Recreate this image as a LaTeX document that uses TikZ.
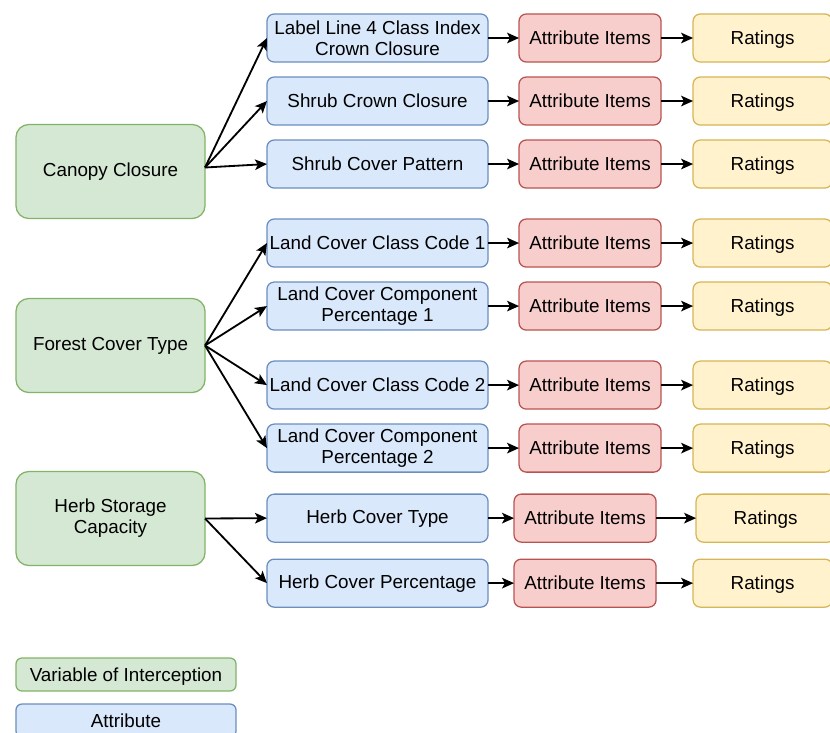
\documentclass[tikz,border=0pt]{standalone}
\usepackage{fontspec}
\setmainfont{Liberation Sans}
\usepackage{xcolor}
\usepackage{tikz}
\usetikzlibrary{arrows.meta, positioning}

\definecolor{vfill}{HTML}{D5E8D4}
\definecolor{vline}{HTML}{82B366}
\definecolor{afill}{HTML}{DAE8FC}
\definecolor{aline}{HTML}{6C8EBF}
\definecolor{ifill}{HTML}{F8CECC}
\definecolor{iline}{HTML}{B85450}
\definecolor{rfill}{HTML}{FFF2CC}
\definecolor{rline}{HTML}{D6B656}

\begin{document}
\begin{tikzpicture}[x=0.025cm, y=-0.025cm,
    font=\fontsize{13.4pt}{15pt}\selectfont,
    varbox/.style={draw=vline, fill=vfill, line width=0.9pt, outer sep=0pt, rounded corners=0.32cm, minimum width=4.725cm, minimum height=2.35cm, align=center, inner sep=1pt},
    attrbox/.style={draw=aline, fill=afill, line width=0.9pt, outer sep=0pt, rounded corners=0.18cm, minimum width=5.525cm, minimum height=1.2cm, align=center, inner xsep=0.5pt, inner ysep=1pt},
    itembox/.style={draw=iline, fill=ifill, line width=0.9pt, outer sep=0pt, rounded corners=0.18cm, minimum width=3.55cm, minimum height=1.2cm, inner sep=1pt, text height=9.6pt, text depth=0pt},
    ratebox/.style={draw=rline, fill=rfill, line width=0.9pt, outer sep=0pt, rounded corners=0.18cm, minimum width=3.475cm, minimum height=1.2cm, inner sep=1pt, text height=9.6pt, text depth=0pt},
    keybox/.style={line width=0.9pt, outer sep=0pt, rounded corners=0.15cm, minimum width=5.5cm, minimum height=0.825cm, inner sep=1pt, text height=9.6pt, text depth=0pt},
    arr/.style={-{Stealth[length=8.5pt, width=7.5pt, inset=2pt]}, line width=1.3pt, black}]
    \useasboundingbox (0,0) rectangle (830,732);

    % --- VARIABLES OF INTERCEPTION (left) ---
    \node (canopy) [varbox] at (110.5,171.5) {Canopy Closure};
    \node (forest) [varbox] at (110.5,345.5) {Forest Cover Type};
    \node (herb) [varbox] at (110.5,518.5) {Herb Storage\\Capacity};

    % --- ATTRIBUTES (middle) ---
    \node (lbl) [attrbox] at (377.5,38) {Label Line 4 Class Index\\Crown Closure};
    \node (scc) [attrbox, below=0.375cm of lbl] {Shrub Crown Closure};
    \node (scp) [attrbox, below=0.375cm of scc] {Shrub Cover Pattern};
    \node (lcc1) [attrbox, below=0.775cm of scp] {Land Cover Class Code 1};
    \node (lcp1) [attrbox, below=0.375cm of lcc1] {Land Cover Component\\Percentage 1};
    \node (lcc2) [attrbox, below=0.775cm of lcp1] {Land Cover Class Code 2};
    \node (lcp2) [attrbox, below=0.375cm of lcc2] {Land Cover Component\\Percentage 2};
    \node (hct) [attrbox, below=0.55cm of lcp2] {Herb Cover Type};
    \node (hcp) [attrbox, below=0.425cm of hct] {Herb Cover Percentage};

    % --- ATTRIBUTE ITEMS ---
    \node (lbl_i) [itembox, right=0.775cm of lbl] {Attribute Items};
    \node (scc_i) [itembox, right=0.775cm of scc] {Attribute Items};
    \node (scp_i) [itembox, right=0.775cm of scp] {Attribute Items};
    \node (lcc1_i) [itembox, right=0.775cm of lcc1] {Attribute Items};
    \node (lcp1_i) [itembox, right=0.775cm of lcp1] {Attribute Items};
    \node (lcc2_i) [itembox, right=0.775cm of lcc2] {Attribute Items};
    \node (lcp2_i) [itembox, right=0.775cm of lcp2] {Attribute Items};
    \node (hct_i) [itembox, right=0.65cm of hct] {Attribute Items};
    \node (hcp_i) [itembox, right=0.65cm of hcp] {Attribute Items};

    % --- RATINGS (right) ---
    \node (lbl_r) [ratebox, right=0.8cm of lbl_i] {Ratings};
    \node (scc_r) [ratebox, right=0.8cm of scc_i] {Ratings};
    \node (scp_r) [ratebox, right=0.8cm of scp_i] {Ratings};
    \node (lcc1_r) [ratebox, right=0.8cm of lcc1_i] {Ratings};
    \node (lcp1_r) [ratebox, right=0.8cm of lcp1_i] {Ratings};
    \node (lcc2_r) [ratebox, right=0.8cm of lcc2_i] {Ratings};
    \node (lcp2_r) [ratebox, right=0.8cm of lcp2_i] {Ratings};
    \node (hct_r) [ratebox, right=1cm of hct_i] {Ratings};
    \node (hcp_r) [ratebox, right=0.925cm of hcp_i] {Ratings};

    % --- LEGEND ---
    \node (key_var) [keybox, draw=vline, fill=vfill] at (126,674.5) {Variable of Interception};
    \node (key_attr) [keybox, draw=aline, fill=afill, below=0.325cm of key_var] {Attribute};

    % Arrows to attributes
    \coordinate (canopy_out) at ([yshift=0.1cm]canopy.east);
    \draw[arr] (canopy_out) -- (lbl.west);
    \draw[arr] (canopy_out) -- (scc.west);
    \draw[arr] (canopy_out) -- (scp.west);
    \draw[arr] (forest.east) -- (lcc1.west);
    \draw[arr] (forest.east) -- (lcp1.west);
    \draw[arr] (forest.east) -- (lcc2.west);
    \draw[arr] (forest.east) -- (lcp2.west);
    \draw[arr] (herb.east) -- (hct.west);
    \draw[arr] (herb.east) -- (hcp.west);

    % Arrows to items and ratings
    \draw[arr] (lbl) -- (lbl_i);
    \draw[arr] (lbl_i) -- (lbl_r);
    \draw[arr] (scc) -- (scc_i);
    \draw[arr] (scc_i) -- (scc_r);
    \draw[arr] (scp) -- (scp_i);
    \draw[arr] (scp_i) -- (scp_r);
    \draw[arr] (lcc1) -- (lcc1_i);
    \draw[arr] (lcc1_i) -- (lcc1_r);
    \draw[arr] (lcp1) -- (lcp1_i);
    \draw[arr] (lcp1_i) -- (lcp1_r);
    \draw[arr] (lcc2) -- (lcc2_i);
    \draw[arr] (lcc2_i) -- (lcc2_r);
    \draw[arr] (lcp2) -- (lcp2_i);
    \draw[arr] (lcp2_i) -- (lcp2_r);
    \draw[arr] (hct) -- (hct_i);
    \draw[arr] (hct_i) -- (hct_r);
    \draw[arr] (hcp) -- (hcp_i);
    \draw[arr] (hcp_i) -- (hcp_r);

\end{tikzpicture}
\end{document}
